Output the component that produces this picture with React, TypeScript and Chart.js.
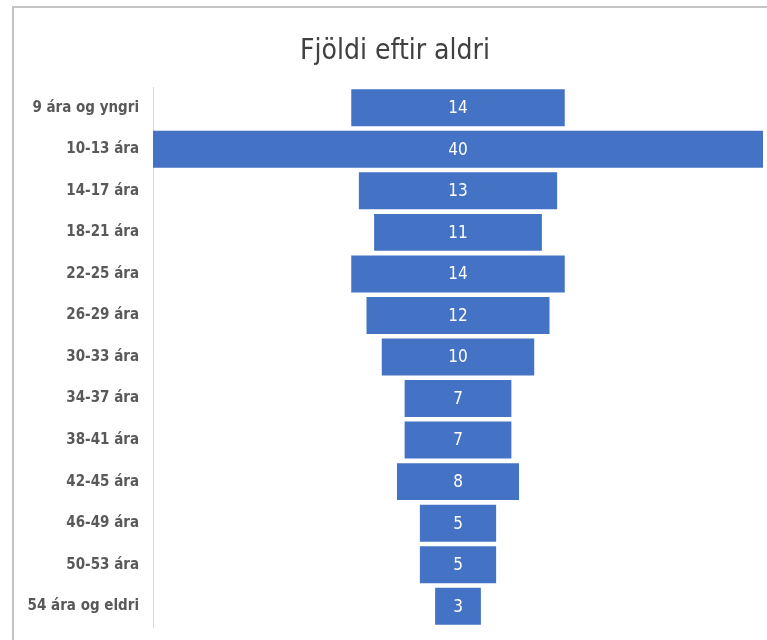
import React, { useEffect, useRef } from "react";
import { Chart, registerables } from "chart.js";

Chart.register(...registerables);

const categories = [
  "9 ára og yngri",
  "10-13 ára",
  "14-17 ára",
  "18-21 ára",
  "22-25 ára",
  "26-29 ára",
  "30-33 ára",
  "34-37 ára",
  "38-41 ára",
  "42-45 ára",
  "46-49 ára",
  "50-53 ára",
  "54 ára og eldri",
];
const counts = [14, 40, 13, 11, 14, 12, 10, 7, 7, 8, 5, 5, 3];
const chartTitle = "Fjöldi eftir aldri";

const FONT = "'Liberation Sans Narrow', 'DejaVu Sans Condensed', 'Open Sans', sans-serif";

export default function App() {
  const ref = useRef<HTMLCanvasElement | null>(null);

  useEffect(() => {
    document.body.style.margin = "0";
    const maxVal = Math.max(...counts);
    const mid = maxVal / 2;
    const floating = counts.map((v) => [mid - v / 2, mid + v / 2]);

    const framePlugin = {
      id: "frame",
      beforeDraw(chart: any) {
        const ctx = chart.ctx;
        ctx.save();
        ctx.fillStyle = "#ffffff";
        ctx.fillRect(0, 0, chart.width, chart.height);
        ctx.strokeStyle = "#c4c4c4";
        ctx.lineWidth = 2;
        ctx.beginPath();
        ctx.moveTo(13, chart.height);
        ctx.lineTo(13, 7);
        ctx.lineTo(chart.width, 7);
        ctx.stroke();
        ctx.restore();
      },
      afterDraw(chart: any) {
        const ctx = chart.ctx;
        ctx.save();
        ctx.fillStyle = "#404040";
        ctx.font = `28px ${FONT}`;
        ctx.textAlign = "center";
        ctx.textBaseline = "alphabetic";
        ctx.fillText(chartTitle, 395, 59);
        const meta = chart.getDatasetMeta(0);
        ctx.fillStyle = "#ffffff";
        ctx.font = `17px ${FONT}`;
        ctx.textBaseline = "middle";
        meta.data.forEach((bar: any, i: number) => {
          const p = bar.getProps(["x", "base", "y"], true);
          ctx.fillText(String(counts[i]), (p.x + p.base) / 2, p.y + 1);
        });
        ctx.restore();
      },
    };

    const chart = new Chart(ref.current as HTMLCanvasElement, {
      type: "bar",
      data: {
        labels: categories,
        datasets: [
          {
            data: floating as any,
            backgroundColor: "#4472C4",
            borderWidth: 0,
            borderSkipped: false,
            categoryPercentage: 1,
            barPercentage: 0.89,
          },
        ],
      },
      options: {
        indexAxis: "y",
        animation: false,
        responsive: false,
        devicePixelRatio: 1,
        layout: { padding: { top: 87, bottom: 13, left: 13, right: 4 } },
        plugins: {
          legend: { display: false },
          tooltip: { enabled: false },
          title: { display: false },
        },
        scales: {
          x: {
            min: 0,
            max: maxVal,
            display: false,
          },
          y: {
            grid: { display: false, drawTicks: false },
            border: { display: true, color: "#d9d9d9", width: 1 },
            ticks: {
              color: "#595959",
              font: { family: FONT, size: 15, weight: "bold" as any },
              padding: 14,
            },
            afterFit(scale: any) {
              scale.width = 140;
              scale.paddingTop = 0;
              scale.paddingBottom = 0;
            },
          },
        },
      },
      plugins: [framePlugin],
    });
    return () => chart.destroy();
  }, []);

  return <canvas ref={ref} width={767} height={640} style={{ display: "block" }} />;
}
